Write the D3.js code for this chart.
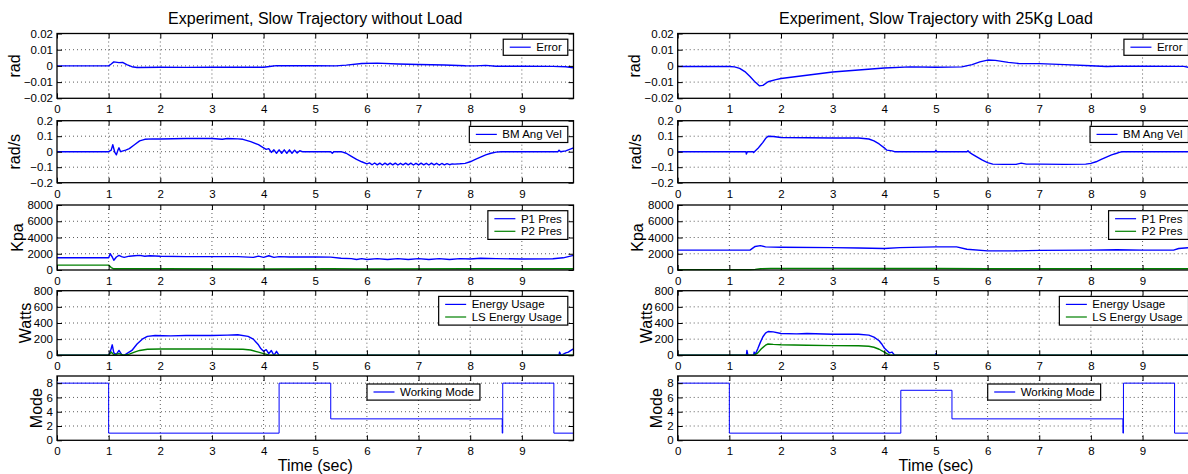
<!DOCTYPE html>
<html>
<head>
<meta charset="utf-8">
<script src="https://cdn.jsdelivr.net/npm/d3@7"></script>
<style>
  body { margin: 0; background: #fff; }
  text { font-family: "Liberation Sans", Arial, Helvetica, sans-serif; fill: #000; }
</style>
</head>
<body>
<div id="chart"></div>
<script>
// ---- data ----
const timeTicks = [0, 1, 2, 3, 4, 5, 6, 7, 8, 9];
const errTicks = [-0.02, -0.01, 0, 0.01, 0.02];
const errTickLabels = ["\u22120.02", "\u22120.01", "0", "0.01", "0.02"];
const velTicks = [-0.2, -0.1, 0, 0.1, 0.2];
const velTickLabels = ["\u22120.2", "\u22120.1", "0", "0.1", "0.2"];
const presTicks = [0, 2000, 4000, 6000, 8000];
const powerTicks = [0, 200, 400, 600, 800];
const modeTicks = [0, 2, 4, 6, 8];

const titles = ["Experiment, Slow Trajectory without Load", "Experiment, Slow Trajectory with 25Kg Load"];
const yLabels = ["rad", "rad/s", "Kpa", "Watts", "Mode"];
const legendNames = [["Error"], ["BM Ang Vel"], ["P1 Pres", "P2 Pres"], ["Energy Usage", "LS Energy Usage"], ["Working Mode"]];

// without load  [time (s), value]
const errNoLoad = [[0,0],[1.0,0],[1.05,0.0012],[1.1,0.0025],[1.2,0.002],[1.27,0.0022],[1.35,0.0008],[1.45,-0.0005],[1.55,-0.001],[2,-0.0008],[2.5,-0.0009],[3,-0.0008],[3.5,-0.0008],[4,-0.0008],[4.15,-0.0002],[4.25,0.0002],[5,0.0001],[5.4,0],[5.6,0.0005],[5.9,0.0015],[6.2,0.0017],[6.6,0.0012],[7,0.0009],[7.5,0.0006],[7.9,0.0001],[8.1,0],[8.3,0.0003],[8.5,-0.0002],[9,-0.0002],[9.6,-0.0003],[9.85,-0.0005],[10,-0.0012]];
const velNoLoad = [[0,0],[1.0,0],[1.05,0.01],[1.08,0.045],[1.12,-0.005],[1.15,-0.02],[1.18,0.01],[1.2,0.025],[1.23,0],[1.28,0.005],[1.33,0.01],[1.4,0.02],[1.5,0.045],[1.6,0.07],[1.7,0.08],[1.85,0.083],[2,0.082],[2.5,0.085],[3,0.085],[3.2,0.08],[3.3,0.085],[3.5,0.083],[3.6,0.08],[3.75,0.065],[3.9,0.045],[4.0,0.025],[4.05,0.015],[4.1,0.02],[4.15,-0.005],[4.2,0.012],[4.25,-0.01],[4.3,0.012],[4.35,-0.01],[4.4,0.012],[4.45,-0.01],[4.5,0.012],[4.55,-0.01],[4.6,0.01],[4.65,-0.008],[4.7,0.006],[4.75,0],[5.3,0],[5.33,-0.01],[5.36,0],[5.5,0],[5.6,-0.01],[5.7,-0.03],[5.8,-0.05],[5.9,-0.065],[6.0,-0.078],[6.05,-0.072],[6.1,-0.084],[6.15,-0.073],[6.2,-0.085],[6.25,-0.074],[6.3,-0.086],[6.35,-0.074],[6.4,-0.085],[6.45,-0.074],[6.5,-0.085],[6.55,-0.074],[6.6,-0.086],[6.65,-0.075],[6.7,-0.085],[6.75,-0.074],[6.8,-0.085],[6.85,-0.074],[6.9,-0.086],[6.95,-0.075],[7.0,-0.085],[7.05,-0.074],[7.1,-0.085],[7.15,-0.075],[7.2,-0.086],[7.25,-0.074],[7.3,-0.085],[7.35,-0.075],[7.4,-0.086],[7.45,-0.076],[7.5,-0.085],[7.55,-0.077],[7.6,-0.084],[7.65,-0.079],[7.7,-0.08],[7.8,-0.078],[7.9,-0.075],[8.0,-0.065],[8.1,-0.05],[8.2,-0.035],[8.3,-0.02],[8.4,-0.01],[8.5,-0.003],[8.6,0],[9.7,0],[9.72,0.01],[9.75,0],[9.85,0.005],[9.9,0.012],[10,0.025]];
const p1NoLoad = [[0,1500],[1.0,1500],[1.03,2000],[1.07,1600],[1.1,1200],[1.15,1600],[1.2,1800],[1.25,1650],[1.3,1550],[1.4,1700],[1.5,1750],[1.6,1800],[1.7,1700],[1.8,1750],[2,1700],[2.5,1650],[3,1650],[3.5,1650],[3.8,1550],[3.9,1700],[4.0,1550],[4.1,1750],[4.2,1550],[4.3,1650],[4.5,1600],[5,1600],[5.3,1580],[5.5,1450],[5.7,1400],[5.8,1300],[5.9,1400],[6.0,1300],[6.2,1400],[6.4,1300],[6.6,1400],[6.8,1300],[7,1400],[7.2,1300],[7.4,1400],[7.6,1300],[7.8,1400],[8,1350],[8.2,1450],[8.5,1400],[9,1350],[9.6,1380],[9.8,1500],[10,1800]];
const p2NoLoad = [[0,600],[1.0,600],[1.05,300],[1.1,150],[2,150],[4,130],[5.3,150],[6,120],[8,150],[10,150]];
const energyNoLoad = [[0,0],[1.0,0],[1.03,40],[1.07,130],[1.1,30],[1.15,10],[1.2,60],[1.25,10],[1.3,0],[1.35,20],[1.45,60],[1.55,140],[1.65,200],[1.75,235],[1.9,245],[2.2,240],[2.5,245],[3,245],[3.3,250],[3.5,255],[3.7,235],[3.8,200],[3.9,130],[3.95,80],[4.0,50],[4.05,70],[4.1,20],[4.15,60],[4.2,0],[4.25,50],[4.3,0],[9.72,0],[9.73,40],[9.76,0],[9.85,30],[9.9,40],[9.95,60],[10,80]];
const lsEnergyNoLoad = [[0,0],[1.0,0],[1.05,40],[1.1,5],[1.2,20],[1.3,0],[1.4,15],[1.5,40],[1.6,60],[1.75,75],[2,78],[3,78],[3.6,75],[3.75,65],[3.9,40],[4,20],[4.1,5],[4.2,0],[10,0]];
const modeNoLoad = [[0,8],[1.0,8],[1.0,1],[4.3,1],[4.3,8],[5.3,8],[5.3,3],[8.62,3],[8.62,1],[8.63,1],[8.63,8],[9.62,8],[9.62,1],[10,1]];

// with 25 kg load
const errLoad = [[0,-0.0004],[1.0,-0.0004],[1.1,-0.0006],[1.2,-0.0015],[1.3,-0.0035],[1.4,-0.0065],[1.5,-0.01],[1.58,-0.0123],[1.65,-0.012],[1.75,-0.0098],[1.9,-0.0085],[2,-0.0078],[2.5,-0.0058],[3,-0.0038],[3.5,-0.0025],[4,-0.0013],[4.5,-0.0006],[5,-0.0008],[5.5,-0.0006],[5.7,0.0008],[5.85,0.0025],[6,0.0036],[6.15,0.0034],[6.4,0.0022],[6.6,0.0015],[7,0.0014],[7.5,0.0008],[8,0.0001],[8.3,-0.0004],[8.5,-0.0002],[9,-0.0002],[9.8,-0.0003],[10,-0.0015]];
const velLoad = [[0,0],[1.32,0],[1.33,-0.015],[1.35,0],[1.46,0],[1.47,-0.006],[1.5,0.005],[1.55,0.02],[1.6,0.04],[1.65,0.06],[1.7,0.085],[1.75,0.1],[1.85,0.098],[2,0.092],[2.5,0.09],[3,0.088],[3.5,0.088],[3.7,0.082],[3.8,0.07],[3.9,0.05],[4.0,0.025],[4.05,0.01],[4.15,0.005],[4.2,0],[4.98,0],[5.0,0.008],[5.02,0],[5.6,0],[5.62,0.006],[5.65,-0.005],[5.7,-0.015],[5.8,-0.035],[5.9,-0.055],[6.0,-0.07],[6.1,-0.08],[6.3,-0.082],[6.55,-0.082],[6.65,-0.074],[6.75,-0.08],[7,-0.08],[7.5,-0.082],[7.9,-0.08],[8.0,-0.075],[8.1,-0.065],[8.2,-0.05],[8.3,-0.035],[8.4,-0.02],[8.5,-0.01],[8.55,-0.004],[8.6,0],[9.9,0],[9.95,0.008],[10,0.005]];
const p1Load = [[0,2450],[1.4,2450],[1.5,2900],[1.6,3000],[1.7,2850],[2,2800],[3,2750],[3.5,2700],[4,2650],[4.3,2750],[5,2850],[5.4,2850],[5.6,2550],[6,2350],[6.5,2350],[7,2420],[8,2450],[8.5,2500],[9,2450],[9.6,2450],[9.7,2650],[10,2800]];
const p2Load = [[0,50],[1.4,50],[1.5,80],[1.6,150],[1.8,200],[3,200],[4,180],[5,180],[6,150],[8,150],[10,150]];
const energyLoad = [[0,0],[1.33,0],[1.34,60],[1.36,0],[1.47,0],[1.48,40],[1.5,10],[1.55,80],[1.6,160],[1.65,230],[1.7,275],[1.75,295],[1.85,290],[2,270],[2.3,265],[2.5,270],[3,260],[3.5,260],[3.7,250],[3.8,225],[3.9,180],[3.95,140],[4.0,90],[4.05,60],[4.1,30],[4.15,40],[4.2,0],[4.98,0],[5,20],[5.02,0],[9.9,0],[9.92,20],[9.95,0],[10,0]];
const lsEnergyLoad = [[0,0],[1.48,0],[1.55,30],[1.62,80],[1.7,125],[1.75,140],[1.85,135],[2,130],[2.5,125],[3,120],[3.5,118],[3.7,112],[3.8,100],[3.9,75],[4,40],[4.05,20],[4.1,5],[4.15,0],[10,0]];
const modeLoad = [[0,8],[1,8],[1,1],[4.32,1],[4.32,7],[5.31,7],[5.31,3],[8.62,3],[8.62,1],[8.63,1],[8.63,8],[9.62,8],[9.62,1],[10,1]];

// ---- layout / style ----
const W = 1188, H = 474;
const colLeft = [57, 677.7];
const plotW = 516.5;
const rowTop = [33.5, 120.7, 205, 290.7, 376];
const rowH = [64.8, 62, 65, 64.6, 64.3];
const yLabelOffset = [43, 42.7, 40, 31.5, 21];
const seriesColors = ["#0000ff", "#008000"];

const panelDefs = [
  { domain: [-0.02, 0.02], ticks: errTicks, tickText: errTickLabels },
  { domain: [-0.2, 0.2], ticks: velTicks, tickText: velTickLabels },
  { domain: [0, 8000], ticks: presTicks, tickText: presTicks.map(String) },
  { domain: [0, 800], ticks: powerTicks, tickText: powerTicks.map(String) },
  { domain: [0, 9], ticks: modeTicks, tickText: modeTicks.map(String) }
];
const columns = [
  [[errNoLoad], [velNoLoad], [p1NoLoad, p2NoLoad], [energyNoLoad, lsEnergyNoLoad], [modeNoLoad]],
  [[errLoad], [velLoad], [p1Load, p2Load], [energyLoad, lsEnergyLoad], [modeLoad]]
];

const svg = d3.select("#chart").append("svg")
  .attr("width", W)
  .attr("height", H);

svg.append("rect").attr("width", W).attr("height", H).attr("fill", "#fff");

columns.forEach((panels, c) => {
  const x0 = colLeft[c];
  const x = d3.scaleLinear().domain([0, 10]).range([x0, x0 + plotW]);

  svg.append("text")
    .attr("x", x0 + plotW / 2)
    .attr("y", 24)
    .attr("text-anchor", "middle")
    .attr("font-size", 16)
    .text(titles[c]);

  svg.append("text")
    .attr("x", x0 + plotW / 2)
    .attr("y", 471)
    .attr("text-anchor", "middle")
    .attr("font-size", 16)
    .text("Time (sec)");

  panels.forEach((series, p) => {
    const def = panelDefs[p];
    const top = rowTop[p], bot = rowTop[p] + rowH[p];
    const y = d3.scaleLinear().domain(def.domain).range([bot, top]);
    const g = svg.append("g");

    // dotted grid
    g.selectAll(".gx").data(timeTicks.filter(t => t > 0)).join("line")
      .attr("x1", d => x(d)).attr("x2", d => x(d))
      .attr("y1", top).attr("y2", bot)
      .attr("stroke", "#333").attr("stroke-width", 0.8)
      .attr("stroke-dasharray", "1,3");
    g.selectAll(".gy").data(def.ticks.filter(t => t > def.domain[0] && t < def.domain[1])).join("line")
      .attr("x1", x0).attr("x2", x0 + plotW)
      .attr("y1", d => y(d)).attr("y2", d => y(d))
      .attr("stroke", "#333").attr("stroke-width", 0.8)
      .attr("stroke-dasharray", "1,3");

    // data lines
    const line = d3.line().x(d => x(d[0])).y(d => y(d[1]));
    series.forEach((s, i) => {
      g.append("path")
        .datum(s)
        .attr("fill", "none")
        .attr("stroke", seriesColors[i])
        .attr("stroke-width", p === 4 ? 1 : 1.4)
        .attr("stroke-linejoin", "round")
        .attr("d", line);
    });

    // axes, ticks inside on all four sides
    g.append("g")
      .attr("transform", `translate(0,${bot})`)
      .call(d3.axisBottom(x).tickValues(timeTicks).tickSize(-5).tickPadding(7));
    g.append("g")
      .attr("transform", `translate(0,${top})`)
      .call(d3.axisTop(x).tickValues(timeTicks).tickSize(-5).tickFormat(""));
    g.append("g")
      .attr("transform", `translate(${x0},0)`)
      .call(d3.axisLeft(y).tickValues(def.ticks).tickSize(-5).tickPadding(4)
        .tickFormat((d, i) => def.tickText[i]));
    g.append("g")
      .attr("transform", `translate(${x0 + plotW},0)`)
      .call(d3.axisRight(y).tickValues(def.ticks).tickSize(-5).tickFormat(""));

    g.selectAll(".domain").remove();
    g.selectAll(".tick line").attr("stroke", "#000");
    g.selectAll(".tick text")
      .attr("font-size", 11.5)
      .attr("font-family", "'Liberation Sans', Arial, sans-serif")
      .attr("fill", "#000");

    g.append("rect")
      .attr("x", x0).attr("y", top)
      .attr("width", plotW).attr("height", bot - top)
      .attr("fill", "none")
      .attr("stroke", "#000")
      .attr("stroke-width", 1.3);

    // y label
    g.append("text")
      .attr("transform", `translate(${x0 - yLabelOffset[p]},${(top + bot) / 2}) rotate(-90)`)
      .attr("text-anchor", "middle")
      .attr("dy", "0.35em")
      .attr("font-size", 16)
      .text(yLabels[p]);

    // legend
    const names = legendNames[p];
    const lg = g.append("g");
    const texts = names.map(n => lg.append("text")
      .attr("font-size", 11.5)
      .attr("dy", "0.35em")
      .text(n));
    const tw = d3.max(texts, t => t.node().getComputedTextLength());
    const boxW = 33 + tw + 6;
    const boxH = 3.5 + 12.6 * names.length;
    const bx = p === 4 ? x0 + 310 : x0 + plotW - 5.7 - boxW;
    const by = p === 4 ? top + 8 : top + 5.7;
    lg.insert("rect", "text")
      .attr("x", bx).attr("y", by)
      .attr("width", boxW).attr("height", boxH)
      .attr("fill", "#fff").attr("stroke", "#000").attr("stroke-width", 1.2);
    names.forEach((n, i) => {
      const cy = by + 8 + i * 12.6;
      lg.append("line")
        .attr("x1", bx + 6.5).attr("x2", bx + 27.5)
        .attr("y1", cy).attr("y2", cy)
        .attr("stroke", seriesColors[i]).attr("stroke-width", 1.2);
      texts[i].attr("x", bx + 33).attr("y", cy);
    });
  });
});
</script>
</body>
</html>
